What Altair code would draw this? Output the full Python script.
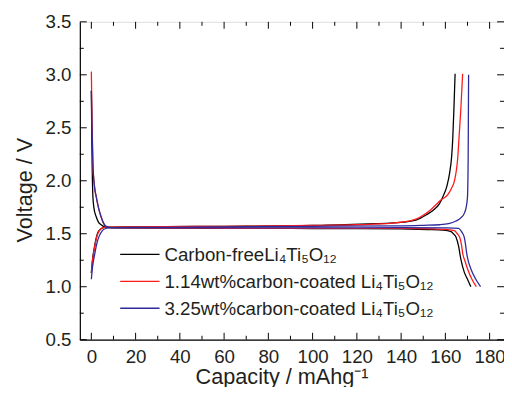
import altair as alt
import pandas as pd

# ---- data ----
series_names = ["Carbon-free", "1.14wt%", "3.25wt%"]
series_colors = ["#000000", "#ff1a1a", "#2e2a9c"]
legend_labels = [
    "Carbon-freeLi₄Ti₅O₁₂",
    "1.14wt%carbon-coated Li₄Ti₅O₁₂",
    "3.25wt%carbon-coated Li₄Ti₅O₁₂",
]

# discharge branches (capacity, voltage)
black_dis_x = [0, 0.2, 0.4, 0.7, 1.2, 2.2, 3.2, 4.4, 6, 10, 30, 60, 90, 120, 140, 152, 159, 162.6, 163.6, 164.8, 166, 167, 168.5, 170, 171.5]
black_dis_v = [2.85, 2.4, 2.1, 1.85, 1.74, 1.66, 1.61, 1.585, 1.565, 1.555, 1.553, 1.552, 1.55, 1.548, 1.545, 1.54, 1.535, 1.52, 1.5, 1.47, 1.38, 1.26, 1.14, 1.07, 1.0]
red_dis_x = [0, 0.3, 0.7, 1.4, 2.2, 3.3, 4.4, 5.5, 6.6, 9, 30, 60, 90, 120, 140, 155, 161, 164.1, 165.4, 166.6, 167.4, 167.8, 168.9, 170, 172, 174]
red_dis_v = [3.03, 2.6, 2.16, 1.95, 1.85, 1.74, 1.66, 1.6, 1.57, 1.557, 1.553, 1.552, 1.551, 1.55, 1.55, 1.545, 1.54, 1.53, 1.5, 1.46, 1.38, 1.32, 1.24, 1.17, 1.07, 1.0]
blue_dis_x = [0, 0.3, 0.7, 1.4, 2.2, 3.3, 4.4, 5.5, 6.6, 9, 30, 60, 90, 120, 140, 161, 166, 167.3, 168.5, 169.1, 169.6, 170.4, 171.5, 173.5, 175.9]
blue_dis_v = [2.85, 2.5, 2.16, 1.95, 1.85, 1.74, 1.66, 1.6, 1.57, 1.558, 1.556, 1.556, 1.556, 1.556, 1.557, 1.556, 1.55, 1.52, 1.47, 1.4, 1.32, 1.24, 1.17, 1.08, 1.0]

# charge branches (capacity, voltage)
black_chg_x = [0, 0.5, 1.45, 2.2, 2.9, 4, 5.1, 7, 20, 60, 100, 127.8, 135.2, 141, 147, 151.5, 154.4, 157.2, 158.9, 160.7, 161.9, 162.8, 163.3, 163.9, 164.4]
black_chg_v = [1.13, 1.25, 1.38, 1.46, 1.51, 1.54, 1.555, 1.562, 1.565, 1.57, 1.578, 1.595, 1.6, 1.61, 1.63, 1.68, 1.72, 1.78, 1.85, 1.95, 2.07, 2.22, 2.38, 2.7, 3.01]
red_chg_x = [0, 0.5, 1.45, 2.2, 2.9, 4, 5.1, 7, 20, 60, 100, 120, 136, 145.6, 153, 158.1, 161.1, 162.8, 164.1, 165.6, 166.3, 167, 167.8]
red_chg_v = [1.13, 1.24, 1.37, 1.45, 1.5, 1.54, 1.555, 1.562, 1.565, 1.57, 1.578, 1.585, 1.6, 1.63, 1.72, 1.82, 1.87, 1.93, 2.0, 2.22, 2.45, 2.68, 3.01]
blue_chg_x = [0, 0.5, 1.45, 2.5, 3.6, 5, 6.6, 9, 30, 100, 140, 150, 157.4, 161.5, 164.8, 167, 168.5, 169.5, 170, 170.3, 170.4, 170.5]
blue_chg_v = [1.07, 1.18, 1.3, 1.41, 1.48, 1.53, 1.55, 1.558, 1.56, 1.57, 1.575, 1.58, 1.585, 1.595, 1.62, 1.65, 1.69, 1.76, 1.85, 2.2, 2.6, 3.0]

x_major = [0, 20, 40, 60, 80, 100, 120, 140, 160, 180]
x_minor = [10, 30, 50, 70, 90, 110, 130, 150, 170]
y_major = [0.5, 1.0, 1.5, 2.0, 2.5, 3.0, 3.5]
y_minor = [0.75, 1.25, 1.75, 2.25, 2.75, 3.25]

# ---- build table ----
rows = []
branches = [
    (series_names[0], "dis", black_dis_x, black_dis_v),
    (series_names[0], "chg", black_chg_x, black_chg_v),
    (series_names[1], "dis", red_dis_x, red_dis_v),
    (series_names[1], "chg", red_chg_x, red_chg_v),
    (series_names[2], "dis", blue_dis_x, blue_dis_v),
    (series_names[2], "chg", blue_chg_x, blue_chg_v),
]
for s, b, xs, vs in branches:
    for i, (xv, vv) in enumerate(zip(xs, vs)):
        rows.append({"series": s, "curve": s + b, "idx": i, "cap": xv, "volt": vv})
df = pd.DataFrame(rows)

W, H = 431, 323
FONT = "Liberation Sans"
TXT = "#231f20"

xscale = alt.Scale(domain=[-5.2, 186.5], nice=False, zero=False)
yscale = alt.Scale(domain=[0.5, 3.5], nice=False, zero=False)

x_axis = alt.Axis(values=x_major, title="Capacity / mAhg⁻¹", ticks=False, domain=True,
                  domainColor="#000", domainWidth=1.2,
                  grid=False, labelFontSize=19, labelPadding=8.5, labelColor=TXT,
                  labelFont=FONT, titleFont=FONT, titleFontSize=22, titleFontWeight="normal",
                  titleColor=TXT, titleX=205, titleY=45, titleBaseline="alphabetic",
                  titleAlign="center", labelFlush=False, labelOverlap=False)
y_axis = alt.Axis(values=y_major, format=".1f", title="Voltage / V", ticks=False, domain=True,
                  domainColor="#000", domainWidth=1.2,
                  grid=False, labelFontSize=19, labelPadding=9, labelColor=TXT,
                  labelFont=FONT, titleFont=FONT, titleFontSize=22, titleFontWeight="normal",
                  titleColor=TXT, titleX=-48.7, titleY=170.5, titleAngle=270,
                  titleBaseline="alphabetic", titleAlign="center", labelFlush=False,
                  labelOverlap=False)

lines = alt.Chart(df).mark_line(strokeWidth=1.3, interpolate="monotone").encode(
    x=alt.X("cap:Q", scale=xscale, axis=x_axis),
    y=alt.Y("volt:Q", scale=yscale, axis=y_axis),
    color=alt.Color("series:N", scale=alt.Scale(domain=series_names, range=series_colors), legend=None),
    detail="curve:N",
    order="idx:Q",
)

def xticks(vals, length):
    d = pd.DataFrame({"cap": vals})
    bottom = alt.Chart(d).mark_rule(color="#000", strokeWidth=1).encode(
        x=alt.X("cap:Q", scale=xscale, axis=x_axis), y=alt.value(H), y2=alt.value(H - length))
    top = alt.Chart(d).mark_rule(color="#000", strokeWidth=1).encode(
        x=alt.X("cap:Q", scale=xscale, axis=x_axis), y=alt.value(0), y2=alt.value(length))
    return [bottom, top]

def yticks(vals, length):
    d = pd.DataFrame({"volt": vals})
    left = alt.Chart(d).mark_rule(color="#000", strokeWidth=1).encode(
        y=alt.Y("volt:Q", scale=yscale, axis=y_axis), x=alt.value(0), x2=alt.value(length))
    right = alt.Chart(d).mark_rule(color="#000", strokeWidth=1).encode(
        y=alt.Y("volt:Q", scale=yscale, axis=y_axis), x=alt.value(W), x2=alt.value(W - length))
    return [left, right]

tick_layers = xticks(x_major, 7) + xticks(x_minor, 4) + yticks(y_major, 7) + yticks(y_minor, 4)

legend_df = pd.DataFrame({"label": legend_labels, "color": series_colors})
legend_layers = []
row_y = [236.3, 263.7, 291.0]
for i in range(3):
    sub = legend_df.iloc[[i]]
    legend_layers.append(alt.Chart(sub).mark_rule(color=series_colors[i], strokeWidth=1.4).encode(
        x=alt.value(41), x2=alt.value(81), y=alt.value(row_y[i])))
    legend_layers.append(alt.Chart(sub).mark_text(align="left", baseline="alphabetic", font=FONT,
                                                  fontSize=19, color=TXT).encode(
        x=alt.value(86), y=alt.value(row_y[i] + 6.8), text="label:N"))

chart = alt.layer(lines, *tick_layers, *legend_layers).properties(
    width=W, height=H,
    autosize=alt.AutoSizeParams(type="none"),
    padding={"left": 73, "top": 11, "right": 0, "bottom": 45},
).configure_view(stroke="#000", strokeWidth=1.2).configure(background="white")

chart.save("out.html", embed_options={"renderer": "svg", "actions": False})
